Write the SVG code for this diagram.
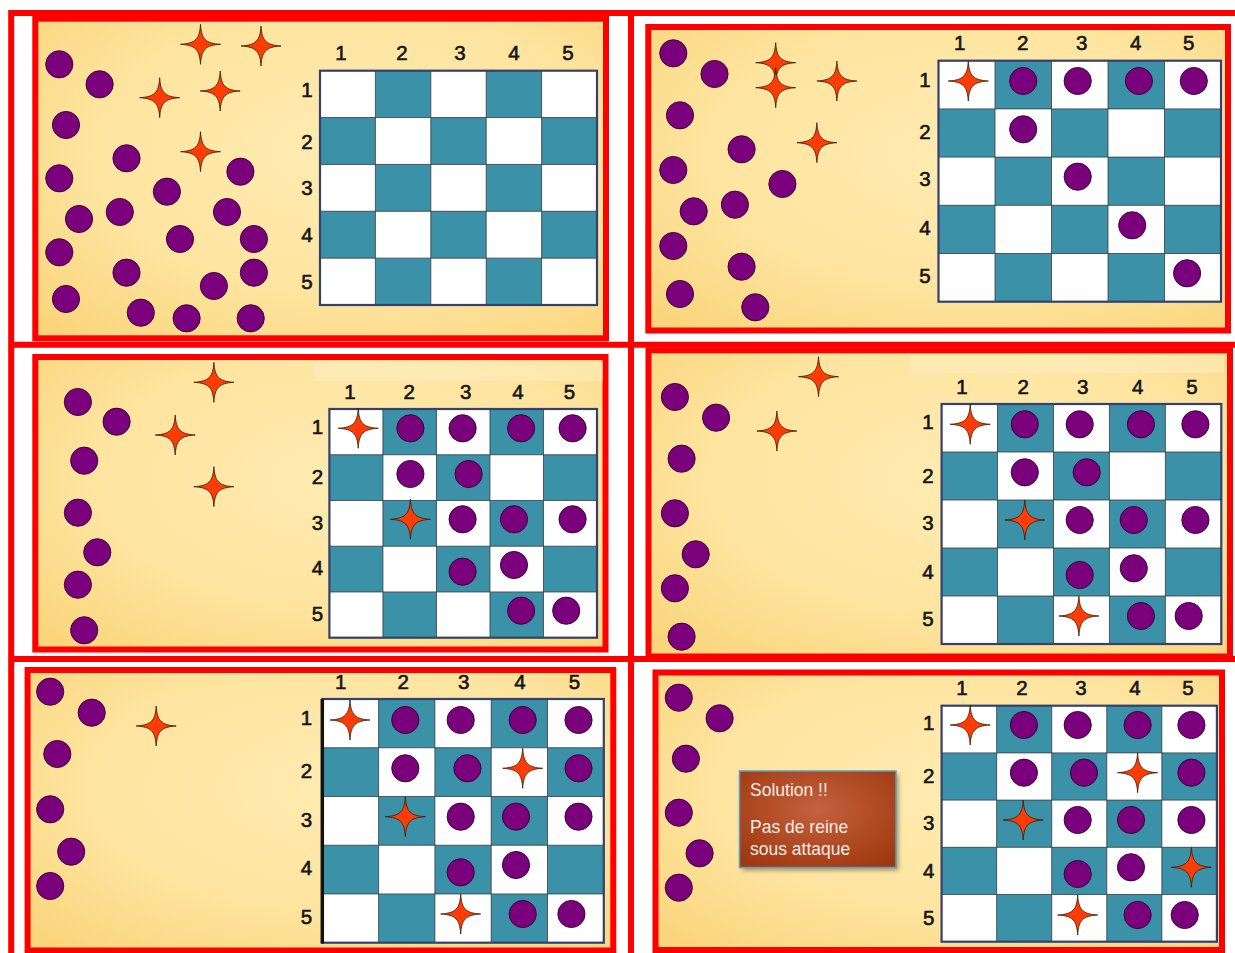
<svg xmlns="http://www.w3.org/2000/svg" xmlns:xlink="http://www.w3.org/1999/xlink" width="1235" height="953" viewBox="0 0 1235 953">
<style>
.frame{stroke:#ff0000;stroke-width:6;fill:url(#bg)}
.q{fill:#7b007b;stroke:#2e002e;stroke-width:0.9}
.st{fill:#ff3c05;stroke:#3b1a00;stroke-width:0.8}
.bd{fill:none;stroke:#34406e;stroke-width:2.2}
.lbl{font-family:"Liberation Sans",Arial,sans-serif;font-size:20.5px;fill:#151515;stroke:#151515;stroke-width:0.6;text-anchor:middle}
.sol{font-family:"Liberation Sans",Arial,sans-serif;font-size:17.5px;fill:#f7ece4}
.patch{fill:#fff2c8;opacity:0.45}
</style>
<defs>
<radialGradient id="bg" cx="0.55" cy="0.42" r="0.75">
<stop offset="0" stop-color="#ffebb2"/>
<stop offset="0.6" stop-color="#fee49f"/>
<stop offset="1" stop-color="#fad57c"/>
</radialGradient>
<radialGradient id="solbg" cx="0.5" cy="0.4" r="0.7">
<stop offset="0" stop-color="#c4613f"/>
<stop offset="1" stop-color="#a0380f"/>
</radialGradient>
<filter id="sh" x="-20%" y="-20%" width="140%" height="140%"><feGaussianBlur stdDeviation="2"/></filter>
<path id="star" class="st" d="M0,-20 C1,-5 5,-1 20,0 C5,1 1,5 0,20 C-1,5 -5,1 -20,0 C-5,-1 -1,-5 0,-20Z"/>
<symbol id="board" viewBox="0 0 5 5" preserveAspectRatio="none">
<rect width="5" height="5" fill="#ffffff"/>
<path fill="#3a91a8" d="M1,0h1v1h-1z M3,0h1v1h-1z M0,1h1v1h-1z M2,1h1v1h-1z M4,1h1v1h-1z M1,2h1v1h-1z M3,2h1v1h-1z M0,3h1v1h-1z M2,3h1v1h-1z M4,3h1v1h-1z M1,4h1v1h-1z M3,4h1v1h-1z"/>
<path d="M1,0V5M2,0V5M3,0V5M4,0V5M0,1H5M0,2H5M0,3H5M0,4H5" stroke="#3a3a3a" stroke-width="0.8" vector-effect="non-scaling-stroke" fill="none"/>
</symbol>
</defs>
<rect width="1235" height="953" fill="#ffffff"/>

<g id="panel1">
<rect class="frame" x="35.3" y="18.7" width="570.7" height="319.6"/>
<use href="#board" x="320" y="70.7" width="277" height="234.3"/>
<rect class="bd" x="320" y="70.7" width="277" height="234.3"/>
<g class="lbl">
<text x="341" y="60">1</text><text x="402" y="60">2</text><text x="460" y="60">3</text><text x="514" y="60">4</text><text x="568" y="60">5</text>
<text x="307" y="97">1</text><text x="307" y="149">2</text><text x="307" y="195">3</text><text x="307" y="242">4</text><text x="307" y="289">5</text>
</g>
<g>
<circle class="q" cx="59.3" cy="64.3" r="13.6"/><circle class="q" cx="99.6" cy="84.3" r="13.6"/><circle class="q" cx="66" cy="125" r="13.6"/><circle class="q" cx="126.5" cy="158.3" r="13.6"/><circle class="q" cx="59.3" cy="178.3" r="13.6"/><circle class="q" cx="240.4" cy="171.7" r="13.6"/><circle class="q" cx="166.9" cy="191.7" r="13.6"/><circle class="q" cx="79" cy="219" r="13.6"/><circle class="q" cx="119.8" cy="212" r="13.6"/><circle class="q" cx="227" cy="212" r="13.6"/><circle class="q" cx="180" cy="239" r="13.6"/><circle class="q" cx="253.9" cy="239" r="13.6"/><circle class="q" cx="59.3" cy="252.3" r="13.6"/><circle class="q" cx="126.5" cy="272.7" r="13.6"/><circle class="q" cx="253.9" cy="272.7" r="13.6"/><circle class="q" cx="213.9" cy="286" r="13.6"/><circle class="q" cx="66" cy="299" r="13.6"/><circle class="q" cx="140.8" cy="312.7" r="13.6"/><circle class="q" cx="186.6" cy="318.3" r="13.6"/><circle class="q" cx="250.7" cy="318.3" r="13.6"/>
<use href="#star" x="200.5" y="44.3"/><use href="#star" x="261" y="46"/><use href="#star" x="159.7" y="97.7"/><use href="#star" x="220.2" y="91"/><use href="#star" x="200.5" y="151.7"/>
</g>
</g>

<g id="panel2">
<rect class="frame" x="648.3" y="27" width="579.7" height="303.5"/>
<use href="#board" x="938.5" y="60.7" width="282.5" height="241"/>
<rect class="bd" x="938.5" y="60.7" width="282.5" height="241"/>
<g class="lbl">
<text x="959.7" y="49.7">1</text><text x="1022.8" y="49.7">2</text><text x="1081.6" y="49.7">3</text><text x="1135.8" y="49.7">4</text><text x="1188.7" y="49.7">5</text>
<text x="925" y="87">1</text><text x="925" y="138.7">2</text><text x="925" y="186.3">3</text><text x="925" y="234.7">4</text><text x="925" y="283">5</text>
</g>
<g>
<circle class="q" cx="673.3" cy="53.3" r="13.6"/><circle class="q" cx="714.5" cy="74" r="13.6"/><circle class="q" cx="680" cy="115.3" r="13.6"/><circle class="q" cx="741.6" cy="149.3" r="13.6"/><circle class="q" cx="673.3" cy="170" r="13.6"/><circle class="q" cx="782.4" cy="184" r="13.6"/><circle class="q" cx="693.7" cy="211.3" r="13.6"/><circle class="q" cx="734.9" cy="204.7" r="13.6"/><circle class="q" cx="673.3" cy="246" r="13.6"/><circle class="q" cx="741.6" cy="266.7" r="13.6"/><circle class="q" cx="680" cy="294" r="13.6"/><circle class="q" cx="755.3" cy="307.3" r="13.6"/>
<use href="#star" x="775.7" y="62.7"/><use href="#star" x="775.7" y="87.7"/><use href="#star" x="836.9" y="81"/><use href="#star" x="816.9" y="142.7"/>
<use href="#star" x="968.3" y="81"/>
<circle class="q" cx="1023.2" cy="81" r="13.6"/><circle class="q" cx="1077.7" cy="81" r="13.6"/><circle class="q" cx="1138.9" cy="81" r="13.6"/><circle class="q" cx="1193.8" cy="81" r="13.6"/><circle class="q" cx="1023.2" cy="129.3" r="13.6"/><circle class="q" cx="1077.7" cy="176.7" r="13.6"/><circle class="q" cx="1132.2" cy="225.3" r="13.6"/><circle class="q" cx="1187.1" cy="273.3" r="13.6"/>
</g>
</g>

<g id="panel3">
<rect class="frame" x="35.3" y="357" width="570.2" height="292.5"/>
<rect class="patch" x="314" y="362" width="289" height="19"/>
<use href="#board" x="329.4" y="409" width="267.6" height="228.7"/>
<rect class="bd" x="329.4" y="409" width="267.6" height="228.7"/>
<g class="lbl">
<text x="350" y="398.7">1</text><text x="409.2" y="398.7">2</text><text x="465.8" y="398.7">3</text><text x="518" y="398.7">4</text><text x="569.4" y="398.7">5</text>
<text x="317.5" y="434.3">1</text><text x="317.5" y="483.7">2</text><text x="317.5" y="529.7">3</text><text x="317.5" y="575.3">4</text><text x="317.5" y="621">5</text>
</g>
<g>
<circle class="q" cx="77.9" cy="402" r="13.6"/><circle class="q" cx="116.6" cy="421.7" r="13.6"/><circle class="q" cx="84.2" cy="460.7" r="13.6"/><circle class="q" cx="77.9" cy="512.7" r="13.6"/><circle class="q" cx="97.3" cy="552.3" r="13.6"/><circle class="q" cx="77.9" cy="584.7" r="13.6"/><circle class="q" cx="84.2" cy="630.3" r="13.6"/>
<use href="#star" x="213.9" y="382.3"/><use href="#star" x="175.2" y="435"/><use href="#star" x="213.9" y="486.7"/>
<use href="#star" x="358.2" y="428.3"/><use href="#star" x="410.4" y="519.3"/>
<circle class="q" cx="410.4" cy="428.3" r="13.6"/><circle class="q" cx="462.6" cy="428.3" r="13.6"/><circle class="q" cx="521.1" cy="428.3" r="13.6"/><circle class="q" cx="572.6" cy="428.3" r="13.6"/><circle class="q" cx="410.4" cy="474" r="13.6"/><circle class="q" cx="468.6" cy="474" r="13.6"/><circle class="q" cx="462.6" cy="519.3" r="13.6"/><circle class="q" cx="514" cy="519.3" r="13.6"/><circle class="q" cx="572.6" cy="519.3" r="13.6"/><circle class="q" cx="462.6" cy="571.7" r="13.6"/><circle class="q" cx="514" cy="565" r="13.6"/><circle class="q" cx="521.1" cy="610.7" r="13.6"/><circle class="q" cx="566.2" cy="610.7" r="13.6"/>
</g>
</g>

<g id="panel4">
<rect class="frame" x="648.5" y="350.3" width="581.5" height="306.2"/>
<rect class="patch" x="910" y="355" width="314" height="18"/>
<use href="#board" x="941.6" y="404" width="279.7" height="240"/>
<rect class="bd" x="941.6" y="404" width="279.7" height="240"/>
<g class="lbl">
<text x="962" y="393.7">1</text><text x="1023.2" y="393.7">2</text><text x="1082.8" y="393.7">3</text><text x="1137.7" y="393.7">4</text><text x="1191.9" y="393.7">5</text>
<text x="927.9" y="428.7">1</text><text x="927.9" y="483">2</text><text x="927.9" y="529.7">3</text><text x="927.9" y="578.7">4</text><text x="927.9" y="626.3">5</text>
</g>
<g>
<circle class="q" cx="674.9" cy="397" r="13.6"/><circle class="q" cx="716.1" cy="417.7" r="13.6"/><circle class="q" cx="681.6" cy="458.7" r="13.6"/><circle class="q" cx="674.9" cy="513.3" r="13.6"/><circle class="q" cx="695.7" cy="554.3" r="13.6"/><circle class="q" cx="674.9" cy="588.3" r="13.6"/><circle class="q" cx="681.6" cy="636.7" r="13.6"/>
<use href="#star" x="818.5" y="376.7"/><use href="#star" x="776.9" y="431"/>
<use href="#star" x="970.2" y="424.3"/><use href="#star" x="1024.8" y="520"/><use href="#star" x="1078.9" y="616"/>
<circle class="q" cx="1024.8" cy="424.3" r="13.6"/><circle class="q" cx="1079.7" cy="424.3" r="13.6"/><circle class="q" cx="1140.9" cy="424.3" r="13.6"/><circle class="q" cx="1195.4" cy="424.3" r="13.6"/><circle class="q" cx="1024.8" cy="472.3" r="13.6"/><circle class="q" cx="1086.7" cy="472.3" r="13.6"/><circle class="q" cx="1079.7" cy="520" r="13.6"/><circle class="q" cx="1133.8" cy="520" r="13.6"/><circle class="q" cx="1195.4" cy="520" r="13.6"/><circle class="q" cx="1079.7" cy="575" r="13.6"/><circle class="q" cx="1133.8" cy="568.3" r="13.6"/><circle class="q" cx="1140.9" cy="616" r="13.6"/><circle class="q" cx="1188.7" cy="616" r="13.6"/>
</g>
</g>

<g id="panel5">
<rect class="frame" x="27.6" y="670" width="585.7" height="280.5"/>
<use href="#board" x="322.3" y="699" width="281.5" height="243.7"/>
<rect class="bd" x="322.3" y="699" width="281.5" height="243.7"/>
<line x1="322.3" y1="699" x2="322.3" y2="943.5" stroke="#111111" stroke-width="3.5"/>
<g class="lbl">
<text x="340.8" y="688.7">1</text><text x="403.3" y="688.7">2</text><text x="463.8" y="688.7">3</text><text x="520" y="688.7">4</text><text x="574.5" y="688.7">5</text>
<text x="306.4" y="725.3">1</text><text x="306.4" y="778">2</text><text x="306.4" y="827">3</text><text x="306.4" y="875.3">4</text><text x="306.4" y="923.7">5</text>
</g>
<g>
<circle class="q" cx="50.2" cy="691.7" r="13.6"/><circle class="q" cx="91.7" cy="712.7" r="13.6"/><circle class="q" cx="57.3" cy="754" r="13.6"/><circle class="q" cx="50.2" cy="809.3" r="13.6"/><circle class="q" cx="71.2" cy="851.7" r="13.6"/><circle class="q" cx="50.2" cy="886" r="13.6"/>
<use href="#star" x="156.2" y="726"/>
<use href="#star" x="350" y="720"/><use href="#star" x="522.7" y="768.3"/><use href="#star" x="405.3" y="816.7"/><use href="#star" x="460.7" y="914"/>
<circle class="q" cx="405.3" cy="720" r="13.6"/><circle class="q" cx="460.7" cy="720" r="13.6"/><circle class="q" cx="522.7" cy="720" r="13.6"/><circle class="q" cx="578.5" cy="720" r="13.6"/><circle class="q" cx="405.3" cy="768.3" r="13.6"/><circle class="q" cx="467.4" cy="768.3" r="13.6"/><circle class="q" cx="578.5" cy="768.3" r="13.6"/><circle class="q" cx="460.7" cy="816.7" r="13.6"/><circle class="q" cx="516" cy="816.7" r="13.6"/><circle class="q" cx="578.5" cy="816.7" r="13.6"/><circle class="q" cx="460.7" cy="872.3" r="13.6"/><circle class="q" cx="516" cy="865" r="13.6"/><circle class="q" cx="522.7" cy="914" r="13.6"/><circle class="q" cx="571.4" cy="914" r="13.6"/>
</g>
</g>

<g id="panel6">
<rect class="frame" x="655.5" y="672.5" width="566.5" height="277.5"/>
<use href="#board" x="941.6" y="705.7" width="275.3" height="236"/>
<rect class="bd" x="941.6" y="705.7" width="275.3" height="236"/>
<g class="lbl">
<text x="962" y="694.7">1</text><text x="1022" y="694.7">2</text><text x="1080.9" y="694.7">3</text><text x="1135" y="694.7">4</text><text x="1187.9" y="694.7">5</text>
<text x="928.7" y="730.3">1</text><text x="928.7" y="783">2</text><text x="928.7" y="830.3">3</text><text x="928.7" y="877.7">4</text><text x="928.7" y="925.3">5</text>
</g>
<g>
<circle class="q" cx="678.8" cy="697.7" r="13.6"/><circle class="q" cx="719.6" cy="718.3" r="13.6"/><circle class="q" cx="685.9" cy="758.7" r="13.6"/><circle class="q" cx="678.8" cy="812.7" r="13.6"/><circle class="q" cx="699.6" cy="853.3" r="13.6"/><circle class="q" cx="678.8" cy="887.7" r="13.6"/>
<use href="#star" x="970.2" y="725"/><use href="#star" x="1137.6" y="772.7"/><use href="#star" x="1023.2" y="820"/><use href="#star" x="1191.4" y="867.3"/><use href="#star" x="1077.7" y="915"/>
<circle class="q" cx="1023.9" cy="725" r="13.6"/><circle class="q" cx="1077.7" cy="725" r="13.6"/><circle class="q" cx="1137.6" cy="725" r="13.6"/><circle class="q" cx="1191.4" cy="725" r="13.6"/><circle class="q" cx="1023.9" cy="772.7" r="13.6"/><circle class="q" cx="1084" cy="772.7" r="13.6"/><circle class="q" cx="1191.4" cy="772.7" r="13.6"/><circle class="q" cx="1077.7" cy="820" r="13.6"/><circle class="q" cx="1131" cy="820" r="13.6"/><circle class="q" cx="1191.4" cy="820" r="13.6"/><circle class="q" cx="1077.7" cy="874" r="13.6"/><circle class="q" cx="1131" cy="867.3" r="13.6"/><circle class="q" cx="1137.6" cy="915" r="13.6"/><circle class="q" cx="1184.7" cy="915" r="13.6"/>
</g>
<g id="solution">
<rect x="742" y="774" width="156.5" height="96.5" fill="#000000" opacity="0.35" filter="url(#sh)"/>
<rect x="739.5" y="771" width="156.5" height="96.5" fill="url(#solbg)" stroke="#5a9fc6" stroke-width="1.5"/>
<text class="sol" x="750" y="796">Solution !!</text>
<text class="sol" x="750" y="832.7">Pas de reine</text>
<text class="sol" x="750" y="855">sous attaque</text>
</g>
</g>

<g id="dividers">
<path d="M8.2,13H1235 M8.2,344.7H1235 M8.2,659H1235 M11.2,10V953 M631,10V953" stroke="#ff0000" stroke-width="6" fill="none"/>
</g>
</svg>
